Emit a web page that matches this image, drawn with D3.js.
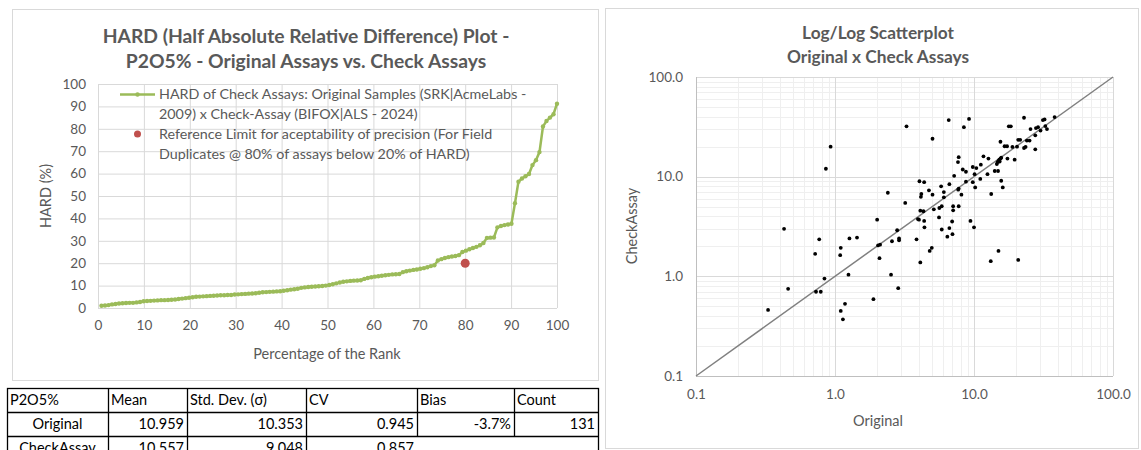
<!DOCTYPE html>
<html><head><meta charset="utf-8">
<script src="https://cdn.jsdelivr.net/npm/d3@7"></script>
<style>
body{margin:0;background:#fff;}
svg{display:block;font-family:Lato,"Open Sans",sans-serif;}
</style></head>
<body><svg id="c" width="1141" height="450"></svg>
<script>
// ---- HARD plot data (sorted HARD %, one per assay pair) ----
const hardValues = [
 1.0,1.1,1.3,1.6,1.8,2.0,2.1,
 2.2,2.3,2.3,2.5,2.7,3.0,
 3.1,3.2,3.3,3.4,3.5,3.5,3.6,
 3.7,3.8,4.0,4.2,4.4,4.6,
 4.8,5.0,5.1,5.2,5.3,5.4,5.5,
 5.6,5.7,5.7,5.8,5.8,6.0,
 6.1,6.2,6.3,6.4,6.5,6.6,6.8,
 7.0,7.1,7.2,7.3,7.4,7.5,
 7.7,7.9,8.2,8.4,8.6,9.0,9.2,
 9.4,9.5,9.6,9.7,9.8,10.0,
 10.3,10.6,11.0,11.4,11.7,11.9,12.1,
 12.2,12.3,12.4,13.0,13.4,13.7,
 14.0,14.2,14.4,14.6,14.8,15.0,15.1,
 15.2,16.0,16.4,16.7,17.0,17.2,
 17.5,17.8,18.2,18.7,19.1,21.2,21.8,
 22.3,22.7,23.0,23.2,23.6,25.0,
 25.6,26.2,26.8,27.3,28.0,29.0,31.3,
 31.4,31.5,36.0,36.6,37.0,37.3,
 37.6,46.8,56.4,57.8,58.8,59.8,63.8,
 66.0,69.6,81.0,83.5,85.0,86.5,91.2];
const refPoint = [80, 20];
const hardTicks = [0,10,20,30,40,50,60,70,80,90,100];
const legendLines = ["HARD of Check Assays: Original Samples (SRK|AcmeLabs -","2009) x Check-Assay (BIFOX|ALS - 2024)"];
const legendRef = ["Reference Limit for aceptability of precision (For Field","Duplicates @ 80% of assays below 20% of HARD)"];

// ---- Scatter data ----
const originalVals = [0.33,0.43,0.46,0.72,0.77,0.73,0.79,0.84,0.86,0.93,
 1.09,1.10,1.10,1.14,1.18,1.25,1.27,1.44,1.89,2.01,
 2.04,2.11,2.09,2.40,2.53,2.57,2.80,2.89,2.89,2.85,
 3.2,3.27,3.86,4.02,4.05,4.11,4.11,4.18,4.15,4.38,
 4.33,4.38,4.40,4.74,4.8,4.97,5.03,5.03,5.14,5.6,
 5.63,5.8,5.86,5.86,6.07,6.07,6.43,6.58,6.65,6.65,
 6.96,7.0,7.08,7.08,7.2,7.67,7.76,7.76,7.76,8.12,
 8.3,8.46,8.75,8.75,9.21,9.43,9.8,9.8,10.0,10.1,
 10.2,10.4,11.1,11.2,11.7,12.5,12.7,13.3,13.2,14.1,
 14.9,14.6,14.8,15.0,15.2,15.5,15.7,15.5,15.7,16.1,
 15.0,16.6,17.3,17.4,17.8,18.4,18.9,19.6,20.4,20.8,
 21.5,20.8,22.9,22.9,23.5,24,25.1,25.5,27.6,27.6,
 27.9,28.9,30.1,31.3,32.2,32.6,33.5,38,7.7,15.3,3.95];
const checkVals = [0.46,3.0,0.75,1.68,2.35,0.70,0.70,0.95,12,20,
 1.63,1.93,0.45,0.37,0.53,1.04,2.4,2.45,0.59,3.7,
 2.04,2.08,1.52,6.9,1.04,2.25,2.9,2.4,2.3,0.76,
 5.45,32,2.35,3.7,9.0,1.38,4.56,6.7,6.27,8.8,
 4.5,3.6,3.1,7.3,1.8,1.93,24,6.6,4.7,3.9,
 4.85,8.0,5.05,2.95,7.0,6.2,2.5,37,8.4,3.05,
 3.55,2.65,5.05,4.6,10.2,14,15.7,7.6,5.05,6.6,
 11.8,31.4,11.2,8.9,38,3.6,12.5,8.8,3.1,10.6,
 7.8,12.2,9.5,13.2,16,10.6,15.2,6.7,1.42,11.4,
 11.4,13.4,14,14.4,14.8,15.2,15.5,22.4,9.1,7.8,
 1.8,20.2,20.2,15.2,32,32,19.9,14.8,20,23.4,
 23.4,1.46,39,19.4,19.9,23,23,30,26,18.8,
 30.7,31.4,29,37,37.5,32.2,30,39.6,7.4,14.2,3.75];
const logTicks = [0.1,1,10,100];

// ---- Table ----
const tableHeader = ["P2O5%","Mean","Std. Dev. (σ)","CV","Bias","Count"];
const tableRows = [
 ["Original","10.959","10.353","0.945","-3.7%","131"],
 ["CheckAssay","10.557","9.048","0.857","",""]];

const svg = d3.select("#c");
const grey = "#595959";

// ================= LEFT CHART =================
svg.append("rect").attr("x",12.5).attr("y",9.5).attr("width",586).attr("height",371)
  .attr("fill","#fff").attr("stroke","#d9d9d9");
const L = svg.append("g");
const xL = d3.scaleLinear().domain([0,100]).range([98,557]);
const yL = d3.scaleLinear().domain([0,100]).range([308,84]);

L.selectAll(".hg").data(hardTicks).join("line")
 .attr("x1",xL(0)).attr("x2",xL(100)).attr("y1",d=>yL(d)+0.5).attr("y2",d=>yL(d)+0.5)
 .attr("stroke","#d9d9d9");
L.selectAll(".vg").data(hardTicks).join("line")
 .attr("y1",yL(0)).attr("y2",yL(100)).attr("x1",d=>xL(d)+0.5).attr("x2",d=>xL(d)+0.5)
 .attr("stroke","#d9d9d9");

const axL = d3.axisLeft(yL).tickValues(hardTicks).tickSize(0).tickPadding(12);
L.append("g").attr("transform",`translate(${xL(0)},0)`).call(axL)
 .call(g=>{g.select(".domain").remove();g.selectAll("text").attr("fill",grey).style("font-size","13.5px").style("font-family","Lato");});
const axB = d3.axisBottom(xL).tickValues(hardTicks).tickSize(0).tickPadding(12);
L.append("g").attr("transform",`translate(0,${yL(0)})`).call(axB)
 .call(g=>{g.select(".domain").remove();g.selectAll("text").attr("fill",grey).style("font-size","13.5px").style("font-family","Lato");});

L.append("text").attr("x",306).attr("y",43).attr("text-anchor","middle").attr("fill",grey)
 .style("font-size","19.3px").style("font-weight","bold").text("HARD (Half Absolute Relative Difference) Plot -");
L.append("text").attr("x",306).attr("y",68).attr("text-anchor","middle").attr("fill",grey)
 .style("font-size","19.3px").style("font-weight","bold").text("P2O5% - Original Assays vs. Check Assays");
L.append("text").attr("x",327).attr("y",359).attr("text-anchor","middle").attr("fill",grey)
 .style("font-size","14.5px").text("Percentage of the Rank");
L.append("text").attr("transform","translate(51,196) rotate(-90)").attr("text-anchor","middle").attr("fill",grey)
 .style("font-size","14.5px").text("HARD (%)");

const n = hardValues.length;
const pts = hardValues.map((v,i)=>[(i+1)/n*100, v]);
L.append("path").datum(pts).attr("fill","none").attr("stroke","#9BBB59").attr("stroke-width",2.5)
 .attr("d",d3.line().x(d=>xL(d[0])).y(d=>yL(d[1])));
L.selectAll(".mk").data(pts).join("circle").attr("cx",d=>xL(d[0])).attr("cy",d=>yL(d[1]))
 .attr("r",2.2).attr("fill","#9BBB59");
L.append("circle").attr("cx",xL(refPoint[0])).attr("cy",yL(refPoint[1])).attr("r",4.5).attr("fill","#C0504D");

const lg = L.append("g");
lg.append("line").attr("x1",120).attr("x2",155).attr("y1",94.5).attr("y2",94.5).attr("stroke","#9BBB59").attr("stroke-width",2.5);
lg.append("circle").attr("cx",137.5).attr("cy",94.5).attr("r",2.2).attr("fill","#9BBB59");
lg.append("circle").attr("cx",137.5).attr("cy",134).attr("r",3.5).attr("fill","#C0504D");
legendLines.forEach((t,i)=>lg.append("text").attr("x",159).attr("y",99+i*19.5).attr("fill",grey).style("font-size","14.3px").text(t));
legendRef.forEach((t,i)=>lg.append("text").attr("x",159).attr("y",139+i*19.5).attr("fill",grey).style("font-size","14.3px").text(t));

// ================= TABLE =================
const colX = [7,108,187,306,417,514,598];
const rowY = [388,412,436,460];
const T = svg.append("g").style("font-family","Lato").style("font-size","14.5px");
const allRows = [tableHeader, ...tableRows];
allRows.forEach((row,ri)=>{
  row.forEach((cell,ci)=>{
    const x0=colX[ci], x1=colX[ci+1];
    let anchor, tx;
    if(ri===0){anchor="start";tx=x0+3;}
    else if(ci===0){anchor="middle";tx=(x0+x1)/2;}
    else {anchor="end";tx=x1-3;}
    T.append("text").attr("x",tx).attr("y",rowY[ri]+17).attr("text-anchor",anchor).attr("fill","#000").text(cell);
  });
});
T.append("rect").attr("x",colX[0]+0.5).attr("y",rowY[0]+0.5).attr("width",colX[6]-colX[0]).attr("height",rowY[3]-rowY[0])
 .attr("fill","none").attr("stroke","#000").attr("stroke-width",1.3);
rowY.slice(1,3).forEach(y=>T.append("line").attr("x1",colX[0]).attr("x2",colX[6]).attr("y1",y+0.5).attr("y2",y+0.5).attr("stroke","#000").attr("stroke-width",1.3));
colX.slice(1,6).forEach((x,i)=>{
  const yEnd = (i>=3)? rowY[2] : rowY[3];
  T.append("line").attr("x1",x+0.5).attr("x2",x+0.5).attr("y1",rowY[0]).attr("y2",yEnd).attr("stroke","#000").attr("stroke-width",1.3);
});

// ================= RIGHT CHART =================
svg.append("rect").attr("x",605.5).attr("y",8.5).attr("width",533).attr("height",440)
  .attr("fill","#fff").attr("stroke","#d9d9d9");
const R = svg.append("g");
const xR = d3.scaleLog().domain([0.1,100]).range([696,1113]);
const yR = d3.scaleLog().domain([0.1,100]).range([376,77]);
const minor = [];
[0.1,1,10].forEach(b=>{for(let k=2;k<=9;k++) minor.push(b*k);});
R.selectAll(".mx").data(minor).join("line").attr("x1",d=>Math.round(xR(d))+0.5).attr("x2",d=>Math.round(xR(d))+0.5)
 .attr("y1",yR(0.1)).attr("y2",yR(100)).attr("stroke","#efefef");
R.selectAll(".my").data(minor).join("line").attr("y1",d=>Math.round(yR(d))+0.5).attr("y2",d=>Math.round(yR(d))+0.5)
 .attr("x1",xR(0.1)).attr("x2",xR(100)).attr("stroke","#efefef");
R.selectAll(".Mx").data(logTicks).join("line").attr("x1",d=>Math.round(xR(d))+0.5).attr("x2",d=>Math.round(xR(d))+0.5)
 .attr("y1",yR(0.1)).attr("y2",yR(100)).attr("stroke","#d9d9d9");
R.selectAll(".My").data(logTicks).join("line").attr("y1",d=>Math.round(yR(d))+0.5).attr("y2",d=>Math.round(yR(d))+0.5)
 .attr("x1",xR(0.1)).attr("x2",xR(100)).attr("stroke","#d9d9d9");
R.append("line").attr("x1",xR(0.1)+0.5).attr("x2",xR(0.1)+0.5).attr("y1",yR(0.1)).attr("y2",yR(100)).attr("stroke","#bfbfbf");
R.append("line").attr("x1",xR(0.1)).attr("x2",xR(100)).attr("y1",yR(0.1)+0.5).attr("y2",yR(0.1)+0.5).attr("stroke","#bfbfbf");

const fmt = d3.format(".1f");
R.append("g").attr("transform",`translate(${xR(0.1)},0)`)
 .call(d3.axisLeft(yR).tickValues(logTicks).tickFormat(fmt).tickSize(0).tickPadding(13))
 .call(g=>{g.select(".domain").remove();g.selectAll("text").attr("fill",grey).style("font-size","13.5px").style("font-family","Lato");});
R.append("g").attr("transform",`translate(0,${yR(0.1)})`)
 .call(d3.axisBottom(xR).tickValues(logTicks).tickFormat(fmt).tickSize(0).tickPadding(13))
 .call(g=>{g.select(".domain").remove();g.selectAll("text").attr("fill",grey).style("font-size","13.5px").style("font-family","Lato");});

R.append("line").attr("x1",xR(0.1)).attr("y1",yR(0.1)).attr("x2",xR(100)).attr("y2",yR(100))
 .attr("stroke","#808080").attr("stroke-width",1.5);

R.selectAll(".pt").data(originalVals.map((o,i)=>[o,checkVals[i]])).join("circle")
 .attr("cx",d=>xR(d[0])).attr("cy",d=>yR(d[1])).attr("r",1.9).attr("fill","#000");

R.append("text").attr("x",878).attr("y",39).attr("text-anchor","middle").attr("fill",grey)
 .style("font-size","17.3px").style("font-weight","bold").text("Log/Log Scatterplot");
R.append("text").attr("x",878).attr("y",63).attr("text-anchor","middle").attr("fill",grey)
 .style("font-size","17.3px").style("font-weight","bold").text("Original  x Check Assays");
R.append("text").attr("x",878).attr("y",426).attr("text-anchor","middle").attr("fill",grey)
 .style("font-size","14.5px").text("Original");
R.append("text").attr("transform","translate(637,226) rotate(-90)").attr("text-anchor","middle").attr("fill",grey)
 .style("font-size","14.5px").text("CheckAssay");
</script></body></html>
